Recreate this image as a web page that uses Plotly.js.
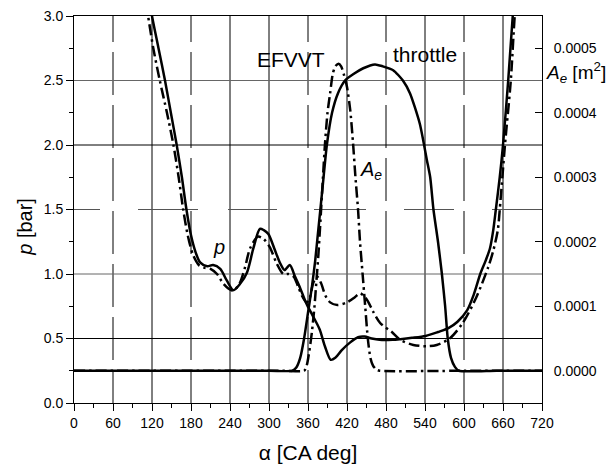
<!DOCTYPE html>
<html>
<head>
<meta charset="utf-8">
<script src="https://cdn.plot.ly/plotly-3.0.1.min.js"></script>
<style>html,body{margin:0;padding:0;background:#fff;}#chart{width:610px;height:465px;}</style>
</head>
<body>
<div id="chart"></div>
<script>
// ---- data ----
// crank angle [CA deg] / pressure [bar], throttle (solid)
const degPThrottle = [117,120,130,140,149,158,166,173,180,187,194,205,214,225,235,245,255,266,276,286,292,299,308,317,324,332,340,348,355,360,368,378,386,395,402,412,425,437,447,458,470,490,502,520,541,560,576,590,605,615,625,633,640,645,649,655,660,668,675,677];
const pThrottle    = [3.1,3.0,2.75,2.5,2.25,2.0,1.75,1.5,1.3,1.17,1.09,1.06,1.07,1.04,0.95,0.875,0.92,1.01,1.2,1.35,1.34,1.31,1.2,1.085,1.03,1.07,0.98,0.89,0.8,0.745,0.67,0.57,0.44,0.335,0.35,0.41,0.47,0.51,0.515,0.5,0.49,0.49,0.495,0.505,0.52,0.55,0.58,0.63,0.72,0.84,1.0,1.1,1.2,1.34,1.5,1.75,2.0,2.5,3.0,3.1];
// pressure [bar], EFVVT (dash-dot)
const degPEfvvt = [111,114,122,132,143,153,161,168,175,183,192,200,210,220,229,237,245,255,263,271,283,292,301,312,322,330,338,345,352,358,363,368,374,380,387,394,405,420,432,440,446,452,460,471,489,502,522,543,558,578,598,619,637,645,652,655,663,672,678,680];
const pEfvvt    = [3.1,3.0,2.75,2.5,2.25,2.0,1.75,1.5,1.3,1.15,1.07,1.05,1.04,1.0,0.93,0.89,0.87,0.93,1.05,1.2,1.29,1.27,1.21,1.08,1.0,1.0,0.98,0.9,0.82,0.78,0.82,0.93,0.98,0.93,0.83,0.78,0.76,0.78,0.82,0.85,0.83,0.79,0.71,0.62,0.55,0.49,0.45,0.44,0.45,0.5,0.62,0.82,1.05,1.18,1.34,1.5,2.0,2.5,3.0,3.1];
// effective flow area A_e [m^2], throttle (solid)
const degAThrottle = [0,300,336,342,348,354,360,366,371,376,382,389,397,406,417,430,445,463,475,491,506,517,532,543,548,553,560,566,571,575,580,586,592,650,720];
const aThrottle    = [0,0,0,0.000005,0.00002,0.00005,0.00009,0.00013,0.00017,0.00022,0.00028,0.00035,0.0004,0.00043,0.00045,0.00046,0.000469,0.000475,0.000472,0.000466,0.00045,0.00043,0.000383,0.000326,0.0003,0.00025,0.0002,0.00015,0.0001,0.00005,0.00002,0.000006,0,0,0];
// effective flow area A_e [m^2], EFVVT (dash-dot)
const degAEfvvt = [0,320,354,358,362,366,370,373,376,379,383,386,390,394,398,402,407,411,415,420,425,429,433,437,440,444,448,452,456,460,465,470,600,720];
const aEfvvt    = [0,0,0,0.000008,0.00003,0.00006,0.0001,0.00014,0.00018,0.00023,0.0003,0.00035,0.0004,0.00043,0.00046,0.000472,0.000476,0.000472,0.00046,0.00044,0.000404,0.000357,0.0003,0.00025,0.0002,0.00015,0.0001,0.00005,0.00002,0.000008,0.000002,0,0,0];

// axis ticks
const xTicks = [0,60,120,180,240,300,360,420,480,540,600,660,720];
const yTicks = [0.0,0.5,1.0,1.5,2.0,2.5,3.0];
const y2Ticks = [0,0.0001,0.0002,0.0003,0.0004,0.0005];

const FONT = 'Liberation Sans, Arial, Helvetica, sans-serif';
const DASHDOT = '11px,4px,2.5px,4px';
const VDASH = '26px,10px,43px,10px,43px,10px,43px,10px,43px,10px,43px,10px,43px,10px,43px,10px,43px';
const HDASH = '26px,38px,60px,30px,49px,37px,52px,38px,50px,38px,60px';

const traces = [
  {x: degPThrottle, y: pThrottle, mode:'lines', yaxis:'y', line:{color:'#000', width:2.5, shape:'spline', smoothing:0.8}, hoverinfo:'skip'},
  {x: degPEfvvt, y: pEfvvt, mode:'lines', yaxis:'y', line:{color:'#000', width:2.5, dash:DASHDOT, shape:'spline', smoothing:0.8}, hoverinfo:'skip'},
  {x: degAThrottle, y: aThrottle, mode:'lines', yaxis:'y2', line:{color:'#000', width:2.5, shape:'spline', smoothing:0.6}, hoverinfo:'skip'},
  {x: degAEfvvt, y: aEfvvt, mode:'lines', yaxis:'y2', line:{color:'#000', width:2.5, dash:DASHDOT, shape:'spline', smoothing:0.6}, hoverinfo:'skip'}
];

// grid lines (solid / long-dashed as in the reference)
const shapes = [];
[120,240,300,420,540,660].forEach(v => shapes.push({type:'line', layer:'below', xref:'x', yref:'paper', x0:v, x1:v, y0:1, y1:0, line:{color:'#000', width:1}}));
[60,180,360,480,600].forEach(v => shapes.push({type:'line', layer:'below', xref:'x', yref:'paper', x0:v, x1:v, y0:1, y1:0, line:{color:'#000', width:1, dash:VDASH}}));
[0.5,2.0].forEach(v => shapes.push({type:'line', layer:'below', xref:'paper', yref:'y', x0:0, x1:1, y0:v, y1:v, line:{color:'#000', width:1}}));
[1.0,2.5].forEach(v => shapes.push({type:'line', layer:'below', xref:'paper', yref:'y', x0:0, x1:1, y0:v, y1:v, line:{color:'#666', width:1}}));
[1.5].forEach(v => shapes.push({type:'line', layer:'below', xref:'paper', yref:'y', x0:0, x1:1, y0:v, y1:v, line:{color:'#555', width:1, dash:HDASH}}));

const layout = {
  width: 610, height: 465,
  margin: {l:74, r:68, t:16, b:62},
  paper_bgcolor:'#fff', plot_bgcolor:'#fff',
  showlegend: false,
  font: {family: FONT, size: 14, color:'#000'},
  xaxis: {
    range:[0,720], tickvals:xTicks, ticktext:xTicks.map(String),
    showgrid:false, zeroline:false,
    showline:true, linecolor:'#000', linewidth:1, mirror:true,
    ticks:'outside', ticklen:7, tickcolor:'#000', tickwidth:1,
    minor:{dtick:30, tick0:0, ticks:'outside', ticklen:4, tickcolor:'#000', showgrid:false},
    tickfont:{family:FONT, size:14},
    title:{text:'α [CA deg]', font:{family:FONT, size:21}, standoff:15}
  },
  yaxis: {
    range:[0,3], tickvals:yTicks, ticktext:yTicks.map(v=>v.toFixed(1)),
    showgrid:false, zeroline:false,
    showline:true, linecolor:'#000', linewidth:1,
    ticks:'outside', ticklen:7, tickcolor:'#000',
    minor:{dtick:0.25, tick0:0, ticks:'outside', ticklen:4, tickcolor:'#000', showgrid:false},
    tickfont:{family:FONT, size:14}
  },
  yaxis2: {
    overlaying:'y', side:'right',
    range:[-0.00005, 0.00055], tickvals:y2Ticks, ticktext:y2Ticks.map(v=>v.toFixed(4)),
    showgrid:false, zeroline:false,
    showline:true, linecolor:'#000', linewidth:1,
    ticks:'inside', ticklen:7, tickcolor:'#000',
    ticklabelstandoff:8,
    tickfont:{family:FONT, size:14}
  },
  shapes: shapes,
  annotations: [
    {xref:'paper', yref:'paper', x:-0.105, y:0.455, xanchor:'center', yanchor:'middle', text:'<i>p</i> [bar]', textangle:-90, showarrow:false, font:{family:FONT, size:20}},
    {xref:'paper', yref:'y', x:1.141, y:2.56, xanchor:'right', yanchor:'middle', text:'<i>A</i><sub><i>e</i></sub> [m<sup>2</sup>]', showarrow:false, font:{family:FONT, size:19}},
    {xref:'x', yref:'y', x:334, y:2.66, xanchor:'center', yanchor:'middle', text:'EFVVT', showarrow:false, font:{family:FONT, size:21}},
    {xref:'x', yref:'y', x:540, y:2.705, xanchor:'center', yanchor:'middle', text:'throttle', showarrow:false, font:{family:FONT, size:21}},
    {xref:'x', yref:'y', x:457, y:1.80, xanchor:'center', yanchor:'middle', text:'<i>A</i><sub><i>e</i></sub>', showarrow:false, font:{family:FONT, size:20}},
    {xref:'x', yref:'y', x:223, y:1.21, xanchor:'center', yanchor:'middle', text:'<i>p</i>', showarrow:false, font:{family:FONT, size:20}}
  ]
};

Plotly.newPlot('chart', traces, layout, {staticPlot:true, displayModeBar:false});
</script>
</body>
</html>
